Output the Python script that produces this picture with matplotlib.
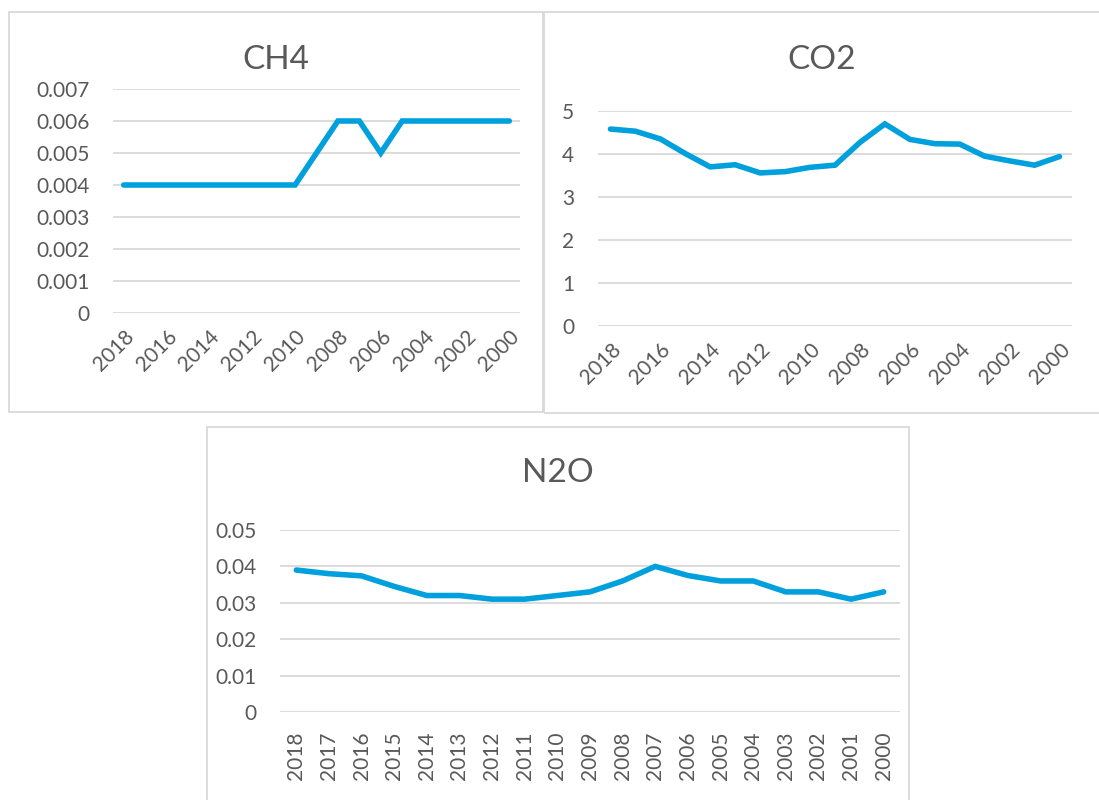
import matplotlib.pyplot as plt
from matplotlib.patches import Rectangle
import numpy as np

plt.rcParams['font.family'] = ['Lato', 'DejaVu Sans']

years = [str(y) for y in range(2018, 1999, -1)]

ch4 = [0.004, 0.004, 0.004, 0.004, 0.004, 0.004, 0.004, 0.004, 0.004,
       0.005, 0.006, 0.006, 0.005, 0.006, 0.006, 0.006, 0.006, 0.006, 0.006]
co2 = [4.58, 4.53, 4.35, 4.01, 3.70, 3.75, 3.56, 3.59, 3.69, 3.74,
       4.27, 4.70, 4.34, 4.24, 4.23, 3.95, 3.84, 3.74, 3.94]
n2o = [0.039, 0.038, 0.0374, 0.0345, 0.032, 0.032, 0.031, 0.031, 0.032,
       0.033, 0.036, 0.040, 0.0375, 0.036, 0.036, 0.033, 0.033, 0.031, 0.033]

ch4_ticks = [0, 0.001, 0.002, 0.003, 0.004, 0.005, 0.006, 0.007]
ch4_labels = ['0', '0.001', '0.002', '0.003', '0.004', '0.005', '0.006', '0.007']
co2_ticks = [0, 1, 2, 3, 4, 5]
co2_labels = ['0', '1', '2', '3', '4', '5']
n2o_ticks = [0, 0.01, 0.02, 0.03, 0.04, 0.05]
n2o_labels = ['0', '0.01', '0.02', '0.03', '0.04', '0.05']

LINE = '#00A0DC'
GRID = '#D9D9D9'
TEXT = '#595959'

W, H = 1099, 800
fig = plt.figure(figsize=(W / 100, H / 100), dpi=100)


def px_axes(x0, y0, x1, y1):
    # pixel box (top-left origin) -> figure axes
    return fig.add_axes([x0 / W, 1 - y1 / H, (x1 - x0) / W, (y1 - y0) / H])


def chart_box(x0, y0, x1, y1):
    fig.patches.append(Rectangle((x0 / W, 1 - y1 / H), (x1 - x0) / W, (y1 - y0) / H,
                                 transform=fig.transFigure, fill=False,
                                 edgecolor=GRID, linewidth=1.3))


def draw(ax, values, ticks, labels, step, rot):
    x = np.arange(len(values))
    ax.plot(x, values, color=LINE, linewidth=4.0, solid_capstyle='round',
            solid_joinstyle='miter', zorder=3)
    ax.set_xlim(-0.5, len(values) - 0.5)
    ax.set_ylim(ticks[0], ticks[-1])
    ax.set_yticks(ticks)
    ax.set_yticklabels(labels)
    ax.grid(axis='y', color=GRID, linewidth=1.3)
    ax.set_axisbelow(True)
    for s in ax.spines.values():
        s.set_visible(False)
    ax.tick_params(length=0, labelcolor=TEXT, labelsize=15)
    ax.tick_params(axis='y', pad=17)
    ax.set_xticks(x[::step])
    if rot == 90:
        ax.set_xticklabels(years[::step], rotation=90, ha='center', va='top')
        ax.tick_params(axis='x', pad=14)
    else:
        ax.set_xticklabels(years[::step], rotation=45, ha='right', va='top',
                           rotation_mode='anchor')
        ax.tick_params(axis='x', pad=10)


chart_box(9, 12, 543, 412)
chart_box(544, 12, 1105, 413)
chart_box(207, 427, 909, 810)

ax1 = px_axes(113, 89, 520, 313)
draw(ax1, ch4, ch4_ticks, ch4_labels, 2, 45)
fig.text(276 / W, 1 - 60 / H, 'CH4', ha='center', va='center', fontsize=24, color=TEXT)

ax2 = px_axes(598, 111, 1072, 326)
draw(ax2, co2, co2_ticks, co2_labels, 2, 45)
fig.text(822 / W, 1 - 60 / H, 'CO2', ha='center', va='center', fontsize=24, color=TEXT)

ax3 = px_axes(280, 530, 900, 712)
draw(ax3, n2o, n2o_ticks, n2o_labels, 1, 90)
fig.text(558 / W, 1 - 473 / H, 'N2O', ha='center', va='center', fontsize=24, color=TEXT)

fig.savefig('out.png', dpi=100)
